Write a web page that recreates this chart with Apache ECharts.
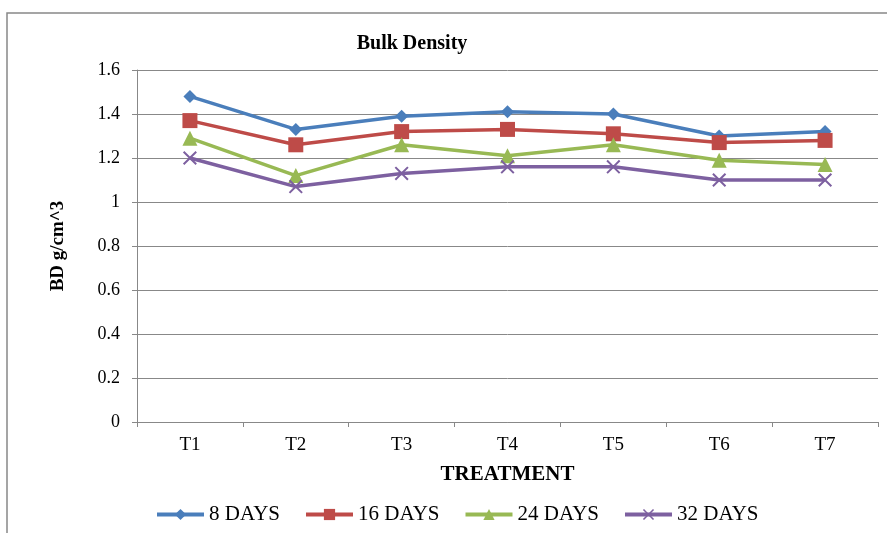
<!DOCTYPE html>
<html><head><meta charset="utf-8">
<script src="https://cdn.jsdelivr.net/npm/echarts@6/dist/echarts.min.js"></script>
<style>html,body{margin:0;padding:0;background:#fff}#c{width:887px;height:533px}</style>
</head><body><div id="c"></div>
<script>
const categories = ['T1','T2','T3','T4','T5','T6','T7'];
const days8  = [1.48, 1.33, 1.39, 1.41, 1.40, 1.30, 1.32];
const days16 = [1.37, 1.26, 1.32, 1.33, 1.31, 1.27, 1.28];
const days24 = [1.29, 1.12, 1.26, 1.21, 1.26, 1.19, 1.17];
const days32 = [1.20, 1.07, 1.13, 1.16, 1.16, 1.10, 1.10];
const yTicks = [0, 0.2, 0.4, 0.6, 0.8, 1, 1.2, 1.4, 1.6];

const font = 'Liberation Serif, Times New Roman, serif';
const crossPath = 'path://M0,1L1,0L5,4L9,0L10,1L6,5L10,9L9,10L5,6L1,10L0,9L4,5Z';
const chart = echarts.init(document.getElementById('c'));
function s(name, data, color, symbol, size) {
  return {name, type:'line', data, symbol, symbolSize:size,
    lineStyle:{color, width:3.5}, itemStyle:{color}, emphasis:{disabled:true}};
}
chart.setOption({
  animation:false,
  textStyle:{fontFamily:font},
  graphic:[{type:'rect', shape:{x:7, y:13, width:900, height:540},
    style:{fill:'none', stroke:'#888', lineWidth:1.5}, silent:true}],
  title:{text:'Bulk Density', left:407, top:29, textAlign:'center',
    textStyle:{fontFamily:font, fontSize:20, fontWeight:'bold', color:'#000'}},
  grid:{left:137, right:9, top:70, bottom:111, containLabel:false},
  legend:{bottom:3, left:150, itemGap:24, itemWidth:47, itemHeight:14,
    lineStyle:{width:4},
    textStyle:{fontFamily:font, fontSize:21, color:'#000'},
    data:['8 DAYS','16 DAYS','24 DAYS','32 DAYS']},
  xAxis:{type:'category', data:categories, boundaryGap:true,
    name:'TREATMENT', nameLocation:'middle', nameGap:42,
    nameTextStyle:{fontFamily:font, fontSize:21, fontWeight:'bold', color:'#000'},
    axisLine:{lineStyle:{color:'#888', width:1}},
    axisTick:{show:true, length:5, lineStyle:{color:'#888'}},
    axisLabel:{fontFamily:font, fontSize:19, color:'#000', margin:14}},
  yAxis:{type:'value', min:0, max:1.6, interval:0.2,
    name:'BD g/cm^3', nameLocation:'middle', nameGap:69, nameRotate:90,
    nameTextStyle:{fontFamily:font, fontSize:19, fontWeight:'bold', color:'#000'},
    axisLine:{show:true, lineStyle:{color:'#888', width:1}},
    axisTick:{show:true, length:5, lineStyle:{color:'#888'}},
    axisLabel:{fontFamily:font, fontSize:18, color:'#000', margin:17,
      formatter:v => { const t = yTicks.find(x => Math.abs(x - v) < 1e-9); return t === undefined ? '' : String(t); }},
    splitLine:{lineStyle:{color:'#888', width:1}}},
  series:[
    s('8 DAYS', days8, '#4A7EBB', 'diamond', 13),
    s('16 DAYS', days16, '#BE4B48', 'rect', 15),
    s('24 DAYS', days24, '#98B954', 'triangle', 15),
    s('32 DAYS', days32, '#7D60A0', crossPath, 14)
  ]
});
</script></body></html>
